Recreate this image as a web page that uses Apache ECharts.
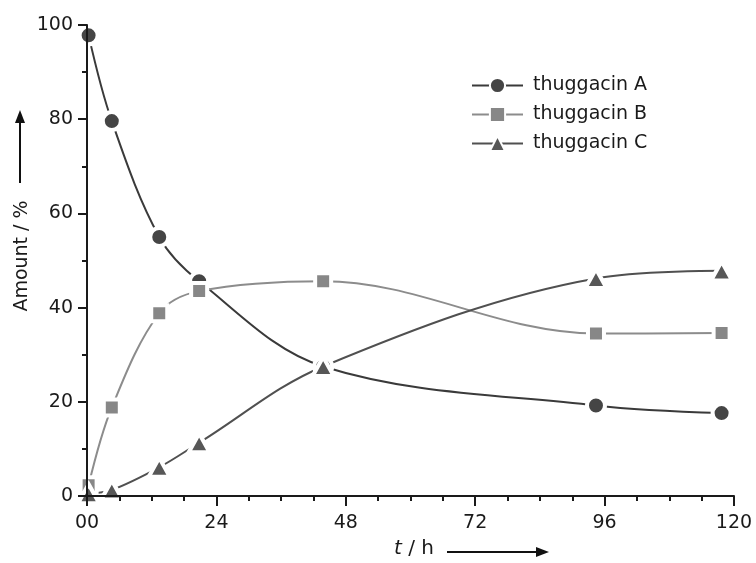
<!DOCTYPE html>
<html lang="en">
<head>
  <meta charset="UTF-8">
  <script src="https://cdn.jsdelivr.net/npm/echarts@6/dist/echarts.min.js"></script>
  <style>
    html, body { margin: 0; padding: 0; background: #fff; }
    #container { width: 756px; height: 563px; }
  </style>
</head>
<body>
  <div id="container"></div>
  <script>
    // time points (h)
    var times = [0.3, 4.6, 13.4, 20.8, 43.8, 94.4, 117.7];
    // amounts (%)
    var thuggacinA = [97.8, 79.6, 55.0, 45.6, 27.5, 19.2, 17.6];
    var thuggacinB = [2.3, 18.8, 38.8, 43.5, 45.6, 34.5, 34.6];
    var thuggacinC = [0.5, 1.3, 6.1, 11.3, 27.5, 46.2, 47.8];
    var seriesNames = ['thuggacin A', 'thuggacin B', 'thuggacin C'];
    var xTicks = [0, 24, 48, 72, 96, 120];
    var yTicks = [0, 20, 40, 60, 80, 100];

    var FONT = 'DejaVu Sans';

    function pairs(ys) {
      var res = [];
      for (var i = 0; i < ys.length; i++) res.push([times[i], ys[i]]);
      return res;
    }

    // smooth curve only; markers come from the scatter overlay
    function lineSeries(name, ys, symbol, lineColor, fillColor) {
      return {
        name: name,
        type: 'line',
        data: pairs(ys),
        smooth: 0.35,
        symbol: symbol,
        showSymbol: false,
        lineStyle: { color: lineColor, width: 2 },
        itemStyle: { color: fillColor, borderColor: '#fff', borderWidth: 4 },
        emphasis: { disabled: true },
        z: 2
      };
    }

    // markers with a white rim, which cuts the curves near each point
    function markerSeries(name, ys, symbol, size, fillColor) {
      return {
        name: name,
        type: 'scatter',
        data: pairs(ys),
        symbol: symbol,
        symbolSize: size,
        itemStyle: { color: fillColor, borderColor: '#fff', borderWidth: 4, opacity: 1 },
        emphasis: { disabled: true },
        z: 3
      };
    }

    var myChart = echarts.init(document.getElementById('container'));

    var option = {
      animation: false,
      backgroundColor: '#fff',
      grid: { left: 87, right: 22, top: 25, bottom: 67 },
      legend: {
        data: seriesNames,
        orient: 'vertical',
        left: 466,
        top: 71,
        itemWidth: 51,
        itemHeight: 19,
        itemGap: 10,
        textStyle: { fontFamily: FONT, fontSize: 19, color: '#1a1a1a', padding: [0, 0, 0, 5] }
      },
      xAxis: {
        type: 'value',
        min: 0,
        max: 120,
        interval: 24,
        z: 10,
        splitLine: { show: false },
        axisLine: { lineStyle: { color: '#1a1a1a', width: 2 } },
        axisTick: { length: 10, lineStyle: { color: '#1a1a1a', width: 2 } },
        minorTick: { show: true, splitNumber: 4, length: 5, lineStyle: { color: '#1a1a1a', width: 2 } },
        axisLabel: {
          margin: 18,
          fontFamily: FONT,
          fontSize: 19,
          color: '#1a1a1a',
          formatter: function (v) { return xTicks.indexOf(v) === 0 ? '00' : String(v); }
        }
      },
      yAxis: {
        type: 'value',
        min: 0,
        max: 100,
        interval: 20,
        z: 10,
        splitLine: { show: false },
        axisLine: { show: true, lineStyle: { color: '#1a1a1a', width: 2 } },
        axisTick: { show: true, length: 9, lineStyle: { color: '#1a1a1a', width: 2 } },
        minorTick: { show: true, splitNumber: 2, length: 5, lineStyle: { color: '#1a1a1a', width: 2 } },
        axisLabel: {
          margin: 14,
          fontFamily: FONT,
          fontSize: 19,
          color: '#1a1a1a',
          formatter: function (v) { return yTicks.indexOf(v) >= 0 ? String(v) : ''; }
        }
      },
      graphic: [
        // y axis title + arrow
        {
          type: 'text', x: 22, y: 256, rotation: Math.PI / 2,
          style: { text: 'Amount / %', font: '19px ' + FONT, fill: '#1a1a1a', textAlign: 'center', textVerticalAlign: 'middle' }
        },
        { type: 'line', shape: { x1: 20, y1: 183, x2: 20, y2: 120 }, style: { stroke: '#111', lineWidth: 2 } },
        { type: 'polygon', shape: { points: [[15, 123], [25, 123], [20, 110]] }, style: { fill: '#111' } },
        // x axis title + arrow
        {
          type: 'text', x: 414, y: 549,
          style: {
            text: '{i|t} / h',
            font: '20px ' + FONT, fill: '#1a1a1a', textAlign: 'center', textVerticalAlign: 'middle',
            rich: { i: { fontStyle: 'italic', fontFamily: FONT, fontSize: 20, fill: '#1a1a1a' } }
          }
        },
        { type: 'line', shape: { x1: 447, y1: 552, x2: 538, y2: 552 }, style: { stroke: '#111', lineWidth: 2 } },
        { type: 'polygon', shape: { points: [[536, 547], [536, 557], [549, 552]] }, style: { fill: '#111' } }
      ],
      series: [
        lineSeries(seriesNames[0], thuggacinA, 'circle', '#3a3a3a', '#454545'),
        lineSeries(seriesNames[1], thuggacinB, 'rect', '#8c8c8c', '#878787'),
        lineSeries(seriesNames[2], thuggacinC, 'triangle', '#505050', '#575757'),
        markerSeries(seriesNames[0], thuggacinA, 'circle', 18, '#454545'),
        markerSeries(seriesNames[1], thuggacinB, 'rect', 16, '#878787'),
        markerSeries(seriesNames[2], thuggacinC, 'triangle', [21, 19], '#575757')
      ]
    };

    myChart.setOption(option);
  </script>
</body>
</html>
